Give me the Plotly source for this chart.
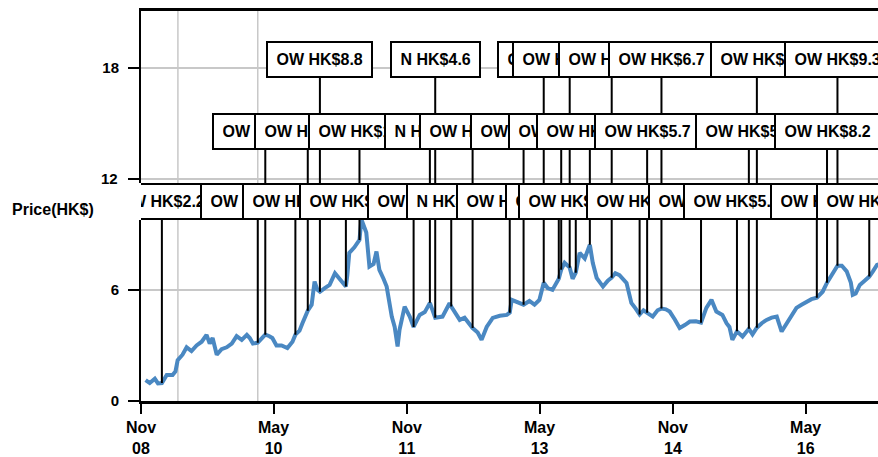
import plotly.graph_objects as go

# ---------------- data ----------------
price_dates = [
    "2008-11-20", "2008-12-07", "2008-12-28", "2009-01-10", "2009-01-26", "2009-02-15", "2009-03-11", "2009-03-23", "2009-04-01", "2009-04-21",
    "2009-05-08", "2009-05-28", "2009-06-18", "2009-07-09", "2009-07-29", "2009-08-11", "2009-08-23", "2009-09-09", "2009-09-29", "2009-10-20",
    "2009-11-10", "2009-11-30", "2009-12-21", "2010-01-11", "2010-01-23", "2010-02-05", "2010-02-25", "2010-03-12", "2010-03-28", "2010-04-14",
    "2010-04-26", "2010-05-13", "2010-06-03", "2010-06-27", "2010-07-18", "2010-07-30", "2010-08-16", "2010-08-28", "2010-09-19", "2010-10-05",
    "2010-10-17", "2010-10-29", "2010-11-08", "2010-11-28", "2010-12-18", "2011-01-09", "2011-01-29", "2011-02-23", "2011-03-01", "2011-03-09",
    "2011-03-30", "2011-04-12", "2011-04-20", "2011-04-28", "2011-05-10", "2011-05-18", "2011-05-31", "2011-06-17", "2011-06-29", "2011-07-11",
    "2011-07-28", "2011-08-10", "2011-08-31", "2011-09-12", "2011-09-24", "2011-10-02", "2011-10-23", "2011-11-13", "2011-11-29", "2011-12-24",
    "2012-01-14", "2012-02-04", "2012-02-26", "2012-03-27", "2012-04-25", "2012-05-02", "2012-06-06", "2012-06-26", "2012-07-29", "2012-08-19",
    "2012-09-04", "2012-09-25", "2012-10-20", "2012-11-18", "2012-12-17", "2012-12-29", "2013-01-06", "2013-02-01", "2013-02-24", "2013-03-20",
    "2013-04-10", "2013-04-30", "2013-05-18", "2013-06-03", "2013-06-23", "2013-07-19", "2013-07-29", "2013-08-12", "2013-09-02", "2013-09-14",
    "2013-09-27", "2013-10-13", "2013-11-03", "2013-11-24", "2013-12-06", "2013-12-22", "2014-01-17", "2014-02-06", "2014-02-22", "2014-03-09",
    "2014-03-26", "2014-04-24", "2014-05-14", "2014-05-31", "2014-06-17", "2014-07-03", "2014-07-18", "2014-08-10", "2014-08-30", "2014-09-15",
    "2014-10-03", "2014-10-19", "2014-11-09", "2014-11-29", "2014-12-20", "2015-01-10", "2015-02-04", "2015-02-25", "2015-03-19", "2015-04-09",
    "2015-04-29", "2015-05-24", "2015-06-10", "2015-06-22", "2015-07-04", "2015-07-23", "2015-08-15", "2015-09-10", "2015-09-25", "2015-10-13",
    "2015-11-02", "2015-11-22", "2015-12-13", "2016-01-03", "2016-01-23", "2016-02-09", "2016-02-25", "2016-03-24", "2016-04-14", "2016-05-05",
    "2016-05-25", "2016-06-16", "2016-07-10", "2016-07-28", "2016-08-17", "2016-09-09", "2016-09-27", "2016-10-17", "2016-11-03", "2016-11-11",
    "2016-11-23", "2016-12-10", "2016-12-30", "2017-01-18", "2017-02-02", "2017-02-19", "2017-03-01",
]
prices = [
    1.13, 0.97, 1.2, 0.95, 0.97, 1.4, 1.4, 1.6, 2.2, 2.5,
    2.9, 2.7, 3.0, 3.2, 3.57, 3.1, 3.4, 2.5, 2.8, 2.9,
    3.1, 3.5, 3.3, 3.57, 3.4, 3.1, 3.15, 3.4, 3.58, 3.5,
    3.4, 3.0, 3.0, 2.86, 3.2, 3.58, 3.8, 4.2, 4.88, 5.2,
    6.45, 6.0, 5.9, 6.1, 6.27, 6.9, 6.6, 6.18, 6.8, 8.0,
    8.3, 8.5, 8.7, 9.8, 9.4, 9.1, 7.26, 7.4, 8.07, 7.08,
    6.6, 6.18, 4.56, 4.0, 2.94, 3.84, 5.1, 4.56, 4.0, 4.65,
    4.8, 5.3, 4.5, 4.56, 5.28, 5.1, 4.38, 4.5, 3.94, 3.7,
    3.3, 4.0, 4.49, 4.6, 4.65, 4.77, 5.46, 5.3, 5.2, 5.4,
    5.2, 5.46, 6.39, 6.1, 6.0, 6.6, 7.09, 7.46, 7.2, 6.6,
    6.93, 8.0, 7.7, 8.44, 7.46, 6.65, 6.18, 6.5, 6.66, 6.9,
    6.8, 6.38, 5.3, 5.0, 4.67, 4.9, 4.77, 4.56, 4.9, 4.99,
    4.95, 4.83, 4.4, 3.94, 4.1, 4.29, 4.3, 4.23, 5.03, 5.46,
    4.83, 4.65, 4.2, 4.0, 3.3, 3.76, 3.48, 3.9, 3.6, 3.96,
    4.2, 4.38, 4.5, 4.56, 3.75, 4.1, 4.38, 5.03, 5.2, 5.37,
    5.5, 5.58, 5.9, 6.39, 6.8, 7.3, 7.3, 7.0, 6.4, 5.73,
    5.8, 6.27, 6.5, 6.72, 7.0, 7.35, 7.4,
]

# rating annotations (row = label tier, 1 = top)
ann_dates = [
    "2010-11-08", "2012-02-26", "2013-05-18", "2013-09-02", "2014-02-22", "2014-09-15", "2015-10-13", "2016-09-09",
    "2010-03-28", "2010-09-19", "2011-04-20", "2012-02-04", "2012-07-29", "2013-02-24", "2013-07-29", "2013-11-24",
    "2014-07-18", "2015-09-10", "2016-07-28",
    "2009-01-26", "2010-02-25", "2010-07-30", "2011-02-23", "2011-11-29", "2012-05-02", "2012-12-29", "2013-07-19",
    "2013-09-27", "2014-06-17", "2015-02-25", "2015-07-23", "2016-06-16", "2017-01-18",
]
ann_prices = [
    5.9, 4.5, 6.39, 7.2, 6.66, 4.99, 3.96, 7.3,
    3.58, 4.88, 8.7, 5.3, 3.94, 5.2, 7.09, 8.44,
    4.77, 3.9, 6.39,
    0.97, 3.15, 3.58, 6.18, 4.0, 5.1, 4.77, 6.6,
    6.93, 4.67, 4.23, 3.76, 5.58, 6.72,
]
ann_texts = [
    "OW HK$8.8", "N HK$4.6", "OW HK$7", "OW HK$10.5", "OW HK$7.8", "OW HK$6.7", "OW HK$6", "OW HK$9.3",
    "OW HK$4.2", "OW HK$5.9", "OW HK$11", "N HK$5.2", "OW HK$5.1", "OW HK$6.3", "OW HK$8.1", "OW HK$9.6",
    "OW HK$5.7", "OW HK$5.2", "OW HK$8.2",
    "OW HK$2.2", "OW HK$4.25", "OW HK$4.5", "OW HK$8", "OW HK$6", "N HK$5.1", "OW HK$5.8", "OW HK$7.9",
    "OW HK$8.25", "OW HK$6.2", "OW HK$5.4", "OW HK$5.5", "OW HK$7", "OW HK$8.6",
]
ann_rows = [1] * 8 + [2] * 11 + [3] * 14

grid_dates = ["2009-04-02", "2010-02-25"]
y_ticks = [0, 6, 12, 18]
x_tick_dates = ["2008-11-01", "2010-05-01", "2011-11-01", "2013-05-01", "2014-11-01", "2016-05-01"]
x_tick_labels = ["Nov<br>08", "May<br>10", "Nov<br>11", "May<br>13", "Nov<br>14", "May<br>16"]
y_title = "Price(HK$)"

# ---------------- layout constants ----------------
ROW_Y = {1: 18.45, 2: 14.58, 3: 10.80}
FONT = "Liberation Sans, Arial, Helvetica, sans-serif"
LINE_BLUE = "#4a88c2"
TICK_FONT_Y = dict(family=FONT, size=15, color="black", weight="bold")
# tick labels that sit next to a tier of labels are redrawn above the clipping mask
REDRAWN_Y_TICKS = [12]

fig = go.Figure()
fig.add_trace(go.Scatter(
    x=price_dates, y=prices, mode="lines",
    line=dict(color=LINE_BLUE, width=4),
    hoverinfo="skip", showlegend=False,
))

annotations = []
for row in (1, 2, 3):
    idx = sorted([i for i in range(len(ann_dates)) if ann_rows[i] == row], key=lambda i: ann_dates[i])
    for i in idx:
        annotations.append(dict(
            x=ann_dates[i], y=ann_prices[i], xref="x", yref="y",
            ax=ann_dates[i], ay=ROW_Y[row], axref="x", ayref="y",
            text=ann_texts[i], showarrow=True, arrowhead=0, arrowwidth=2,
            arrowcolor="black", standoff=0, startstandoff=0,
            font=dict(family=FONT, size=16, color="black", weight="bold"),
            bgcolor="white", bordercolor="black", borderwidth=2, borderpad=8.5,
            height=16,
        ))

# mask: labels are clipped at the left edge of the plotting region
annotations.append(dict(
    xref="paper", x=0, xanchor="right", yref="y", y=ROW_Y[3], yanchor="middle",
    text=" ", showarrow=False, bgcolor="white", borderwidth=0, borderpad=0,
    width=38, height=37,
))
for v in REDRAWN_Y_TICKS:
    annotations.append(dict(
        xref="paper", x=0, xanchor="right", xshift=-23,
        yref="y", y=v, yanchor="middle",
        text=str(v), showarrow=False, borderpad=0, borderwidth=0,
        font=TICK_FONT_Y,
    ))
annotations.append(dict(
    xref="paper", x=-0.1777, xanchor="left", yref="paper", y=0.49, yanchor="middle",
    text=y_title, showarrow=False,
    font=dict(family=FONT, size=16, color="black", weight="bold"),
))

shapes = [
    dict(type="line", xref="x", yref="paper", x0=d, x1=d, y0=0, y1=1,
         line=dict(color="#c8c8c8", width=1.5), layer="below")
    for d in grid_dates
]

fig.update_layout(
    width=878, height=457,
    margin=dict(l=141, r=0, t=11, b=56),
    paper_bgcolor="white", plot_bgcolor="white",
    showlegend=False,
    annotations=annotations,
    shapes=shapes,
    xaxis=dict(
        type="date", range=["2008-11-01", "2017-02-23"],
        tickvals=x_tick_dates, ticktext=x_tick_labels,
        showgrid=False, zeroline=False,
        showline=True, linecolor="black", linewidth=2.5, mirror=True,
        ticks="outside", ticklen=10, tickwidth=2, tickcolor="black",
        tickfont=dict(family=FONT, size=16, color="black", weight="bold"),
    ),
    yaxis=dict(
        range=[0, 21.06], tickvals=y_ticks,
        ticktext=["" if v in REDRAWN_Y_TICKS else str(v) for v in y_ticks],
        showgrid=True, gridcolor="#c8c8c8", gridwidth=1.5, zeroline=False,
        showline=True, linecolor="black", linewidth=2,
        ticks="outside", ticklen=11, tickwidth=2, tickcolor="black",
        ticklabelstandoff=6,
        tickfont=TICK_FONT_Y,
    ),
)

fig.write_html(
    "out.html",
    config={"displayModeBar": False},
    post_script="document.body.style.margin='0';document.body.style.overflow='hidden';",
)
